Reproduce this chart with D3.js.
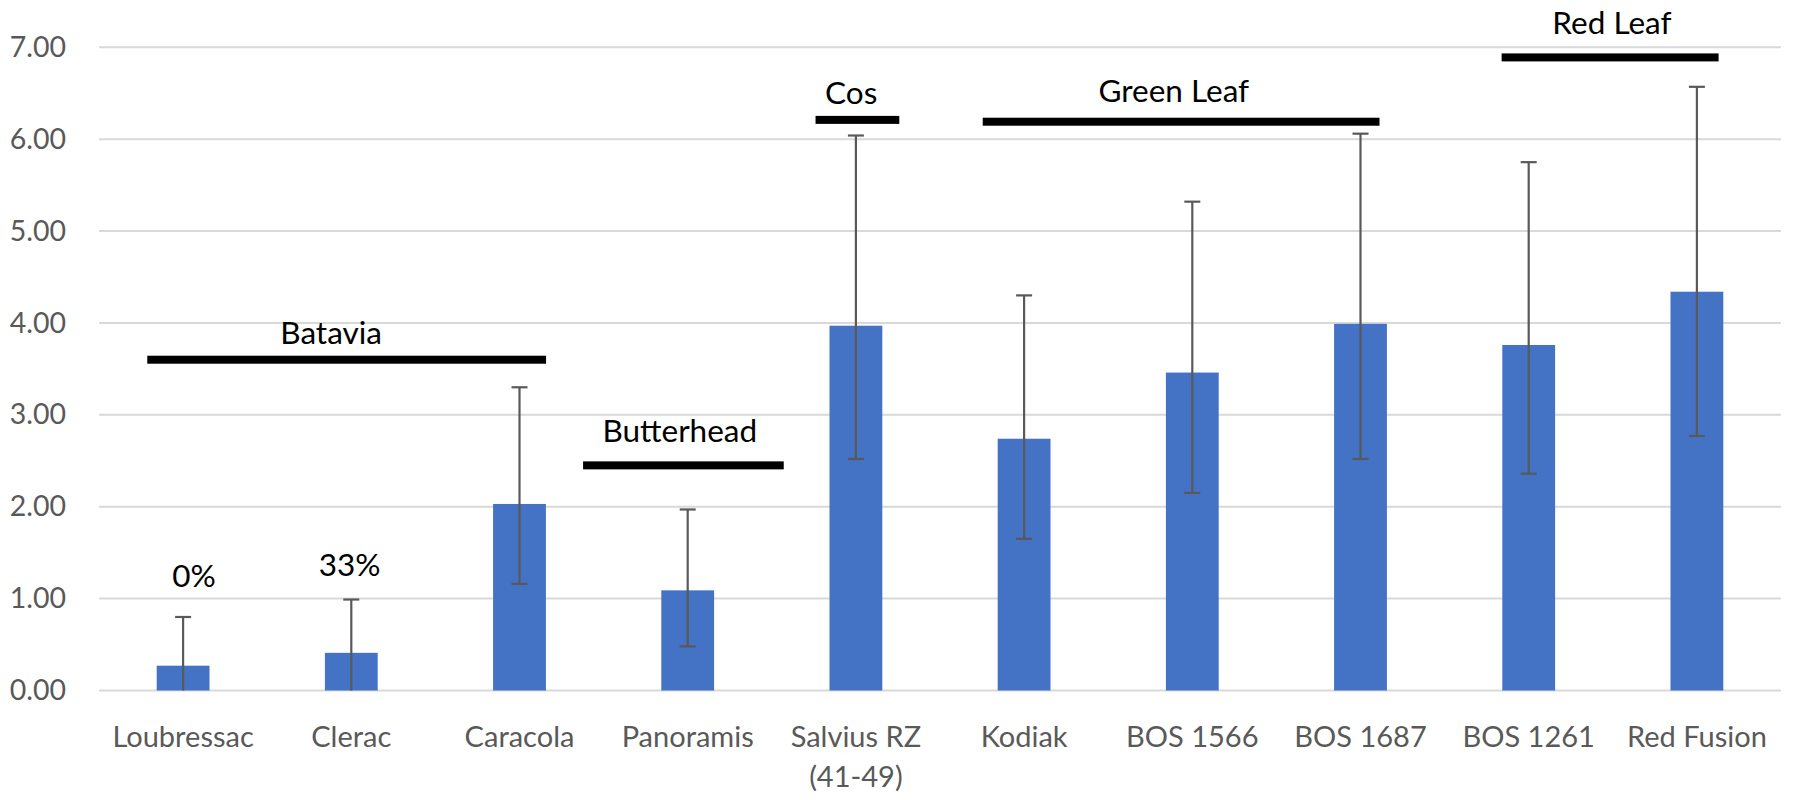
<!DOCTYPE html>
<html>
<head>
<meta charset="utf-8">
<script src="https://cdn.jsdelivr.net/npm/d3@7"></script>
<style>
  html, body { margin: 0; padding: 0; background: #fff; }
  svg { display: block; }
</style>
</head>
<body>
<svg id="chart" width="1807" height="800"></svg>
<script>
// ---- data ----
const categories = ["Loubressac", "Clerac", "Caracola", "Panoramis", "Salvius RZ\n(41-49)", "Kodiak", "BOS 1566", "BOS 1687", "BOS 1261", "Red Fusion"];
const values     = [0.27, 0.41, 2.03, 1.09, 3.97, 2.74, 3.46, 3.99, 3.76, 4.34];
const errUpper   = [0.80, 0.99, 3.30, 1.97, 6.04, 4.30, 5.32, 6.06, 5.75, 6.57];
const errLower   = [0.00, 0.00, 1.16, 0.48, 2.52, 1.65, 2.15, 2.52, 2.36, 2.77];
const yTicks     = [0, 1, 2, 3, 4, 5, 6, 7];

// group annotations (category index span, level in y units)
const groupNames = ["Batavia", "Butterhead", "Cos", "Green Leaf", "Red Leaf"];
const groupFrom  = [-0.213, 2.378, 3.760, 4.754, 7.839];
const groupTo    = [2.158, 3.571, 4.258, 7.113, 9.129];
const groupLevel = [3.60, 2.45, 6.21, 6.19, 6.89];
const groupLabelCenter = [0.880, 2.953, 3.972, 5.890, 8.495];
const groupLabelLevel  = [3.77, 2.70, 6.38, 6.41, 7.15];

// percentage labels over bars
const pctNames = ["0%", "33%"];
const pctIndex = [0.065, 0.99];
const pctLevel = [1.13, 1.25];

// ---- layout ----
const svg = d3.select("#chart");
const mLeft = 99, mRight = 1781, mTop = 47.3, mBottom = 690.5;

const x = d3.scaleBand().domain(categories).range([mLeft, mRight]).paddingInner(0.686).paddingOuter(0.343);
const step = x.step();
const xi = d3.scaleLinear().domain([0, 1]).range([mLeft + step / 2, mLeft + step * 1.5]);
const y = d3.scaleLinear().domain([0, 7]).range([mBottom, mTop]);

const FONT = "Lato, 'Open Sans', sans-serif";

// gridlines
svg.append("g").selectAll("line").data(yTicks).join("line")
  .attr("x1", mLeft).attr("x2", mRight)
  .attr("y1", d => y(d)).attr("y2", d => y(d))
  .attr("stroke", "#d9d9d9").attr("stroke-width", 2);

// y axis labels
const yAxis = d3.axisLeft(y).tickValues(yTicks).tickFormat(d3.format(".2f")).tickSize(0).tickPadding(0);
const yg = svg.append("g").attr("transform", `translate(${mLeft - 33},0)`).call(yAxis);
yg.select(".domain").remove();
yg.selectAll("text").attr("font-family", FONT).attr("font-size", 28.5).attr("fill", "#595959");

// bars
svg.append("g").selectAll("rect").data(categories).join("rect")
  .attr("x", d => x(d)).attr("width", x.bandwidth())
  .attr("y", (d, i) => y(values[i])).attr("height", (d, i) => y(0) - y(values[i]))
  .attr("fill", "#4472C4");

// error bars
const eg = svg.append("g").attr("stroke", "#595959").attr("stroke-width", 2.2);
categories.forEach((c, i) => {
  const cx = x(c) + x.bandwidth() / 2;
  eg.append("line").attr("x1", cx).attr("x2", cx).attr("y1", y(errUpper[i])).attr("y2", y(errLower[i]));
  eg.append("line").attr("x1", cx - 8).attr("x2", cx + 8).attr("y1", y(errUpper[i])).attr("y2", y(errUpper[i]));
  if (errLower[i] > 0)
    eg.append("line").attr("x1", cx - 8).attr("x2", cx + 8).attr("y1", y(errLower[i])).attr("y2", y(errLower[i]));
});

// x axis labels
const xg = svg.append("g");
categories.forEach(c => {
  const lines = c.split("\n");
  const t = xg.append("text")
    .attr("x", x(c) + x.bandwidth() / 2).attr("y", 746.7)
    .attr("text-anchor", "middle").attr("font-family", FONT).attr("font-size", 29).attr("fill", "#595959");
  lines.forEach((l, k) => {
    t.append("tspan").attr("x", x(c) + x.bandwidth() / 2).attr("dy", k === 0 ? 0 : 40).text(l);
  });
});

// group annotations
const gg = svg.append("g");
groupNames.forEach((g, i) => {
  const x1 = xi(groupFrom[i]), x2 = xi(groupTo[i]);
  gg.append("rect").attr("x", x1).attr("width", x2 - x1)
    .attr("y", y(groupLevel[i]) - 4).attr("height", 8).attr("fill", "#000");
  gg.append("text").attr("x", xi(groupLabelCenter[i])).attr("y", y(groupLabelLevel[i]))
    .attr("text-anchor", "middle").attr("font-family", FONT).attr("font-size", 31.5).attr("fill", "#000").text(g);
});

// percentage labels
pctNames.forEach((p, i) => {
  svg.append("text").attr("x", xi(pctIndex[i])).attr("y", y(pctLevel[i]))
    .attr("text-anchor", "middle").attr("font-family", FONT).attr("font-size", 31.5).attr("fill", "#000").text(p);
});
</script>
</body>
</html>
